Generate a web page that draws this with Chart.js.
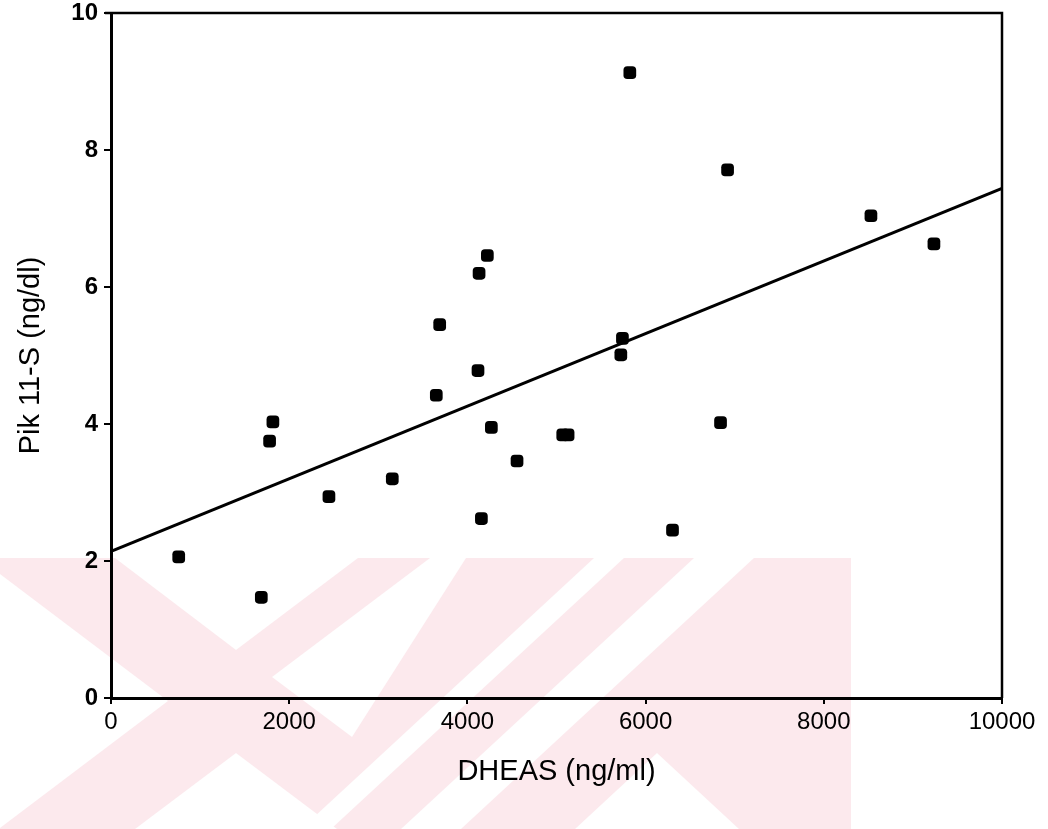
<!DOCTYPE html>
<html lang="en">
  <head>
    <meta charset="UTF-8" />
    <title>Pik 11-S vs DHEAS</title>
    <script src="https://cdn.jsdelivr.net/npm/chart.js"></script>
    <style>
      body { margin: 0; background: #fff; }
      canvas { display: block; }
    </style>
  </head>
  <body>
    <canvas id="scatterChart" width="1048" height="829"></canvas>
    <script>
      // values
      const dheas = [760, 1687, 1780, 1817, 2446, 3157, 3651, 3689, 4119, 4131, 4157, 4224,
        4269, 4557, 5070, 5130, 5722, 5740, 5823, 6302, 6841, 6920, 8529, 9236];
      const pik11s = [2.06, 1.47, 3.75, 4.03, 2.94, 3.20, 4.42, 5.45, 4.78, 6.20, 2.62, 6.46,
        3.95, 3.46, 3.84, 3.84, 5.01, 5.25, 9.13, 2.45, 4.02, 7.71, 7.04, 6.63];

      // regression line, end points
      const fitX = [0, 10000];
      const fitY = [2.14, 7.44];

      const xTicks = [0, 2000, 4000, 6000, 8000, 10000];
      const yTicks = [0, 2, 4, 6, 8, 10];

      const pink = "rgb(252,233,237)";

      // faint watermark in the lower part of the page: a pink block with white cut-outs
      const gaps = [
        [[115, 558], [358, 558], [236, 650]],
        [[0, 574], [168, 701], [0, 828]],
        [[236, 753], [337, 829], [135, 829]],
        [[430, 558], [466, 558], [352, 737], [272, 677]],
        [[594, 558], [624, 558], [331, 829], [301, 829]],
        [[694, 558], [754, 558], [461, 829], [401, 829]],
        [[657, 753], [739, 829], [575, 829]],
      ];
      const watermark = {
        id: "watermark",
        beforeDraw(chart) {
          const c = chart.ctx;
          c.save();
          c.fillStyle = pink;
          c.fillRect(0, 558, 851, 271);
          c.fillStyle = "#fff";
          gaps.forEach((pts) => {
            c.beginPath();
            pts.forEach((p, i) => (i ? c.lineTo(p[0], p[1]) : c.moveTo(p[0], p[1])));
            c.closePath();
            c.fill();
          });
          c.restore();
        },
      };

      // top and right edges of the frame
      const frame = {
        id: "frame",
        afterDraw(chart) {
          const { left, right, top, bottom } = chart.chartArea;
          const c = chart.ctx;
          c.save();
          c.strokeStyle = "#000";
          c.lineWidth = 2.5;
          c.beginPath();
          c.moveTo(left - 6, top);
          c.lineTo(right, top);
          c.lineTo(right, bottom);
          c.stroke();
          c.restore();
        },
      };

      const ctx = document.getElementById("scatterChart").getContext("2d");
      new Chart(ctx, {
        type: "scatter",
        data: {
          datasets: [
            {
              label: "Pik 11-S",
              data: dheas.map((x, i) => ({ x: x, y: pik11s[i] })),
              pointStyle: "rectRounded",
              pointRadius: 7.4,
              backgroundColor: "#000",
              borderColor: "#000",
              borderWidth: 0,
            },
            {
              type: "line",
              label: "fit",
              data: fitX.map((x, i) => ({ x: x, y: fitY[i] })),
              borderColor: "#000",
              borderWidth: 3,
              pointRadius: 0,
              fill: false,
            },
          ],
        },
        options: {
          responsive: false,
          animation: false,
          layout: { padding: { top: 13, right: 46, left: 0, bottom: 0 } },
          plugins: { legend: { display: false }, tooltip: { enabled: false } },
          scales: {
            x: {
              type: "linear",
              min: xTicks[0],
              max: xTicks[xTicks.length - 1],
              afterFit: (s) => {
                s.height = 131;
                s.paddingLeft = 0;
                s.paddingRight = 0;
              },
              afterBuildTicks: (s) => { s.ticks = xTicks.map((v) => ({ value: v })); },
              border: { color: "#000", width: 3 },
              grid: { drawOnChartArea: false, color: "#000", lineWidth: 2, tickLength: 6 },
              ticks: {
                color: "#000",
                padding: 4,
                maxRotation: 0,
                callback: (v) => String(v),
                font: { family: "Liberation Sans, Arial", size: 24 },
              },
              title: {
                display: true,
                text: "DHEAS (ng/ml)",
                color: "#000",
                padding: { top: 0, bottom: 40 },
                font: { family: "Liberation Sans, Arial", size: 29 },
              },
            },
            y: {
              min: yTicks[0],
              max: yTicks[yTicks.length - 1],
              afterFit: (s) => {
                s.width = 111;
                s.paddingTop = 0;
                s.paddingBottom = 0;
              },
              afterBuildTicks: (s) => { s.ticks = yTicks.map((v) => ({ value: v })); },
              border: { color: "#000", width: 3 },
              grid: { drawOnChartArea: false, color: "#000", lineWidth: 2, tickLength: 7 },
              ticks: {
                color: "#000",
                padding: 6,
                callback: (v) => String(v),
                font: { family: "Liberation Sans, Arial", size: 24, weight: "bold" },
              },
              title: {
                display: true,
                text: "Pik 11-S (ng/dl)",
                color: "#000",
                padding: { top: 14, bottom: 0 },
                font: { family: "Liberation Sans, Arial", size: 29 },
              },
            },
          },
        },
        plugins: [watermark, frame],
      });
    </script>
  </body>
</html>
